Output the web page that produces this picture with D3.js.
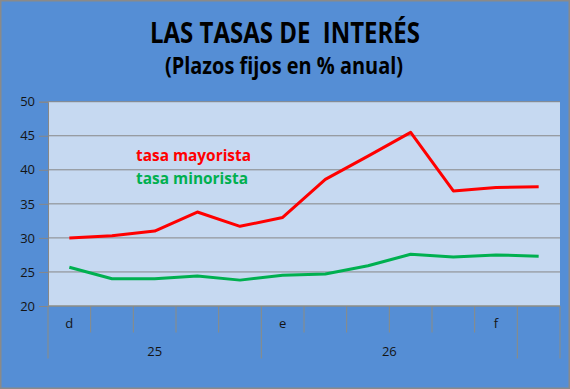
<!DOCTYPE html>
<html>
<head>
<meta charset="utf-8">
<script src="https://cdn.jsdelivr.net/npm/d3@7.9.0/dist/d3.min.js"></script>
<style>
  html, body { margin: 0; padding: 0; background: #fff; }
  svg { display: block; }
  text { white-space: pre; }
</style>
</head>
<body>
<svg id="chart" width="570" height="389"></svg>
<script>
// ---- Data ----
const monthLabels = ['d', '', '', '', '', 'e', '', '', '', '', 'f', ''];
const yearLabels = ['25', '25', '25', '25', '25', '26', '26', '26', '26', '26', '26', ''];
const mayorista = [30.0, 30.3, 31.0, 33.8, 31.7, 33.0, 38.6, 42.0, 45.5, 36.9, 37.4, 37.5];
const minorista = [25.7, 24.0, 24.0, 24.4, 23.8, 24.5, 24.7, 25.9, 27.6, 27.2, 27.5, 27.3];
const yTicks = [20, 25, 30, 35, 40, 45, 50];

// ---- Layout ----
const W = 570, H = 389;
const plot = { left: 48, right: 560, top: 101.7, bottom: 306 };
const font = '"Open Sans", "Liberation Sans", sans-serif';

const svg = d3.select('#chart');

// chart background + border
svg.append('rect')
  .attr('x', 0.75).attr('y', 0.75)
  .attr('width', W - 1.5).attr('height', H - 1.5)
  .attr('fill', '#558ED5')
  .attr('stroke', '#8a8a8a').attr('stroke-width', 1.5);

// plot area
svg.append('rect')
  .attr('x', plot.left).attr('y', plot.top)
  .attr('width', plot.right - plot.left).attr('height', plot.bottom - plot.top)
  .attr('fill', '#C6D9F1');

// ---- Scales ----
const x = d3.scaleBand()
  .domain(d3.range(monthLabels.length))
  .range([plot.left, plot.right])
  .padding(0);

const y = d3.scaleLinear()
  .domain([20, 50])
  .range([plot.bottom, plot.top]);

// gridlines
svg.append('g')
  .selectAll('line')
  .data(yTicks.filter((d) => d > 20))
  .join('line')
  .attr('x1', plot.left).attr('x2', plot.right)
  .attr('y1', (d) => y(d)).attr('y2', (d) => y(d))
  .attr('stroke', '#878787').attr('stroke-width', 1);

// y axis
const yAxis = svg.append('g')
  .attr('transform', `translate(${plot.left},0)`)
  .call(d3.axisLeft(y).tickValues(yTicks).tickSize(9).tickPadding(4));
yAxis.select('.domain').attr('stroke', '#878787');
yAxis.selectAll('.tick line').attr('stroke', '#878787');
yAxis.selectAll('text')
  .attr('font-family', font).attr('font-size', 13)
  .attr('fill', '#141414');

// x axis baseline
svg.append('line')
  .attr('x1', plot.left).attr('x2', plot.right)
  .attr('y1', plot.bottom).attr('y2', plot.bottom)
  .attr('stroke', '#8c8c84').attr('stroke-width', 1.5);

// category separators: long ones where the year group changes
const edges = d3.range(monthLabels.length + 1);
svg.append('g')
  .selectAll('line')
  .data(edges)
  .join('line')
  .attr('x1', (i) => (i < monthLabels.length ? x(i) : plot.right))
  .attr('x2', (i) => (i < monthLabels.length ? x(i) : plot.right))
  .attr('y1', plot.bottom)
  .attr('y2', (i) => {
    const long = i === 0 || i === monthLabels.length || yearLabels[i] !== yearLabels[i - 1];
    return long ? 358.5 : 332.5;
  })
  .attr('stroke', '#8c8c84').attr('stroke-width', 1);

// month labels
svg.append('g')
  .selectAll('text')
  .data(monthLabels)
  .join('text')
  .attr('x', (d, i) => x(i) + x.bandwidth() / 2)
  .attr('y', 327.5)
  .attr('text-anchor', 'middle')
  .attr('font-family', font).attr('font-size', 13)
  .attr('fill', '#141414')
  .text((d) => d);

// year group labels
const groups = d3.groups(yearLabels.map((label, i) => ({ label, i })), (d) => d.label)
  .filter(([label]) => label !== '');
svg.append('g')
  .selectAll('text')
  .data(groups)
  .join('text')
  .attr('x', ([, items]) => (x(items[0].i) + x(items[items.length - 1].i) + x.bandwidth()) / 2)
  .attr('y', 356)
  .attr('text-anchor', 'middle')
  .attr('font-family', font).attr('font-size', 13)
  .attr('fill', '#141414')
  .text(([label]) => label);

// ---- Lines ----
const line = d3.line()
  .x((d, i) => x(i) + x.bandwidth() / 2)
  .y((d) => y(d));

svg.append('path')
  .datum(minorista)
  .attr('d', line)
  .attr('fill', 'none')
  .attr('stroke', '#00B050').attr('stroke-width', 3)
  .attr('stroke-linejoin', 'round');

svg.append('path')
  .datum(mayorista)
  .attr('d', line)
  .attr('fill', 'none')
  .attr('stroke', '#FF0000').attr('stroke-width', 3)
  .attr('stroke-linejoin', 'round');

// ---- Series labels ----
svg.append('text')
  .attr('x', 136).attr('y', 161)
  .attr('font-family', font).attr('font-weight', 'bold').attr('font-size', 16)
  .attr('textLength', 115).attr('lengthAdjust', 'spacingAndGlyphs')
  .attr('fill', '#FF0000')
  .text('tasa mayorista');

svg.append('text')
  .attr('x', 136).attr('y', 183.5)
  .attr('font-family', font).attr('font-weight', 'bold').attr('font-size', 16)
  .attr('textLength', 112).attr('lengthAdjust', 'spacingAndGlyphs')
  .attr('fill', '#00B050')
  .text('tasa minorista');

// ---- Titles ----
svg.append('text')
  .attr('x', 150).attr('y', 43)
  .attr('font-family', font).attr('font-weight', 'bold').attr('font-size', 28)
  .attr('textLength', 270).attr('lengthAdjust', 'spacingAndGlyphs')
  .attr('fill', '#000')
  .text('LAS TASAS DE  INTERÉS');

svg.append('text')
  .attr('x', 165).attr('y', 74)
  .attr('font-family', font).attr('font-weight', 'bold').attr('font-size', 23)
  .attr('textLength', 238).attr('lengthAdjust', 'spacingAndGlyphs')
  .attr('fill', '#000')
  .text('(Plazos fijos en % anual)');
</script>
</body>
</html>
